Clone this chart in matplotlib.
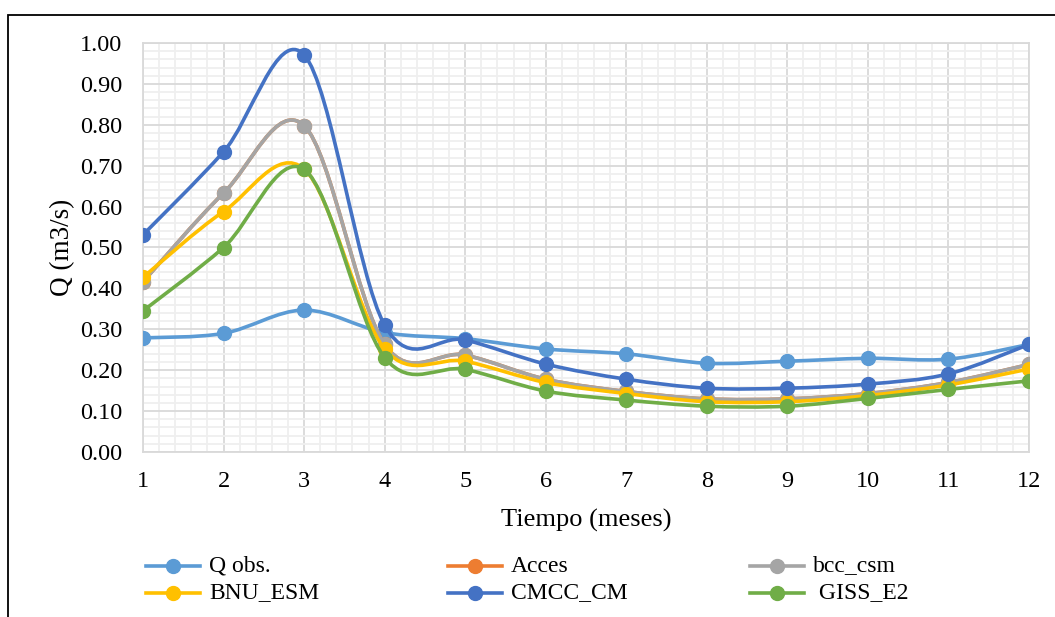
import numpy as np
import matplotlib
matplotlib.use('Agg')
import matplotlib.pyplot as plt
from matplotlib.path import Path
from matplotlib.patches import PathPatch, Rectangle
from matplotlib.lines import Line2D
from matplotlib.ticker import MultipleLocator

plt.rcParams['font.family'] = ['Liberation Serif', 'DejaVu Serif']

# monthly discharge (m3/s)
months = [1, 2, 3, 4, 5, 6, 7, 8, 9, 10, 11, 12]
q_obs = [0.279, 0.290, 0.347, 0.292, 0.277, 0.252, 0.240, 0.217, 0.222, 0.229, 0.227, 0.263]
acces = [0.416, 0.633, 0.798, 0.263, 0.237, 0.178, 0.148, 0.130, 0.130, 0.143, 0.170, 0.214]
bcc_csm = [0.416, 0.633, 0.798, 0.263, 0.237, 0.178, 0.148, 0.130, 0.130, 0.143, 0.170, 0.214]
bnu_esm = [0.427, 0.588, 0.692, 0.252, 0.222, 0.170, 0.143, 0.123, 0.123, 0.138, 0.164, 0.203]
cmcc_cm = [0.531, 0.734, 0.971, 0.310, 0.274, 0.215, 0.178, 0.156, 0.156, 0.166, 0.191, 0.263]
giss_e2 = [0.345, 0.500, 0.691, 0.231, 0.202, 0.149, 0.127, 0.112, 0.112, 0.131, 0.153, 0.174]

names = ['Q obs.', 'Acces', 'bcc_csm', 'BNU_ESM', 'CMCC_CM', ' GISS_E2']
series = [q_obs, acces, bcc_csm, bnu_esm, cmcc_cm, giss_e2]
colors = ['#5B9BD5', '#ED7D31', '#A5A5A5', '#FFC000', '#4472C4', '#70AD47']


def smooth_path(x, y):
    # excel style smoothed line: cubic bezier through the points
    p = np.column_stack([x, y]).astype(float)
    n = len(p)
    verts = [p[0]]
    codes = [Path.MOVETO]
    for i in range(n - 1):
        p0 = p[i - 1] if i > 0 else p[i]
        p3 = p[i + 2] if i + 2 < n else p[i + 1]
        c1 = p[i] + (p[i + 1] - p0) / 6.0
        c2 = p[i + 1] - (p3 - p[i]) / 6.0
        verts += [c1, c2, p[i + 1]]
        codes += [Path.CURVE4] * 3
    return Path(verts, codes)


W, H = 1055, 617
LW, MS = 2.6, 10
fig = plt.figure(figsize=(W / 100, H / 100), dpi=100)
ax = fig.add_axes([143 / W, 1 - 452 / H, (1029 - 143) / W, (452 - 43) / H])

for i, (s, c) in enumerate(zip(series, colors)):
    patch = PathPatch(smooth_path(months, s), fill=False, edgecolor=c, lw=LW,
                      capstyle='round', joinstyle='round', zorder=3 + i)
    ax.add_patch(patch)
    ax.plot(months, s, 'o', color=c, ms=MS, zorder=3 + i)

ax.set_xlim(1, 12)
ax.set_ylim(0, 1.0)
ax.xaxis.set_major_locator(MultipleLocator(1))
ax.xaxis.set_minor_locator(MultipleLocator(0.2))
ax.yaxis.set_major_locator(MultipleLocator(0.1))
ax.yaxis.set_minor_locator(MultipleLocator(0.02))
ax.yaxis.set_major_formatter(matplotlib.ticker.FormatStrFormatter('%.2f'))
ax.grid(which='major', color='#D9D9D9', lw=1.3, zorder=1)
ax.grid(which='minor', color='#EFEFEF', lw=1.3, zorder=0)
ax.set_axisbelow(True)
ax.tick_params(which='both', length=0)
ax.tick_params(axis='x', labelsize=17.5, pad=14)
ax.tick_params(axis='y', labelsize=17.5, pad=15)
for sp in ax.spines.values():
    sp.set_color('#D9D9D9')
    sp.set_linewidth(1.3)

ax.set_xlabel('Tiempo (meses)', fontsize=19, labelpad=12)
ax.set_ylabel('Q (m3/s)', fontsize=19.5, labelpad=3)

# legend drawn as three columns of two rows
cols_x = [146, 448, 750]
rows_y = [566, 593]
order = [[0, 3], [1, 4], [2, 5]]
for cx, idxs in zip(cols_x, order):
    for ry, k in zip(rows_y, idxs):
        yf = 1 - ry / H
        fig.add_artist(Line2D([cx / W, (cx + 54) / W], [yf, yf], color=colors[k], lw=LW,
                              transform=fig.transFigure))
        fig.add_artist(Line2D([(cx + 27) / W], [yf], color=colors[k], marker='o', ms=MS,
                              transform=fig.transFigure))
        fig.text((cx + 63) / W, yf, names[k], fontsize=17, va='center', ha='left')

# chart border
fig.add_artist(Rectangle((8 / W, -0.1), 1.2, 1.1 - 15 / H, fill=False, edgecolor='black',
                         lw=1.3, transform=fig.transFigure))

fig.savefig('out.png', dpi=100)
